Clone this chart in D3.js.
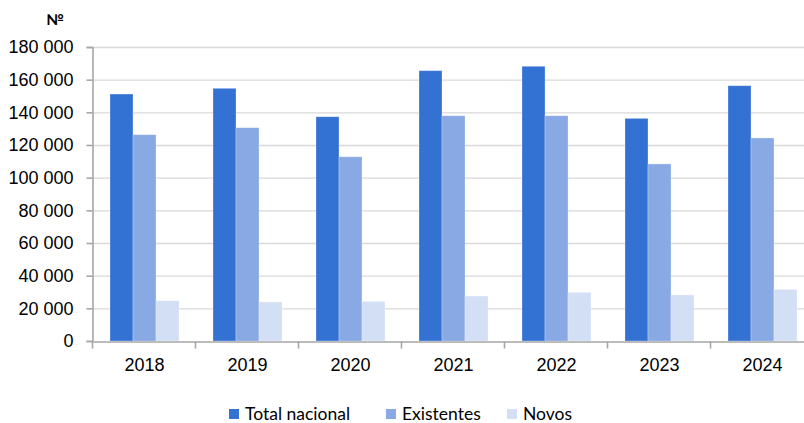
<!DOCTYPE html>
<html>
<head>
<meta charset="utf-8">
<script src="https://cdn.jsdelivr.net/npm/d3@7"></script>
<style>
  body { margin: 0; background: #fff; }
  svg { display: block; font-family: Lato, "Open Sans", sans-serif; }
</style>
</head>
<body>
<svg id="chart" width="804" height="423"></svg>
<script>
// data
const years = ["2018", "2019", "2020", "2021", "2022", "2023", "2024"]
const seriesNames = ["Total nacional", "Existentes", "Novos"]
const totalNacional = [151200, 154700, 137300, 165500, 168200, 136300, 156300]
const existentes = [126300, 130600, 112800, 137900, 137900, 108400, 124300]
const novos = [24700, 23900, 24300, 27500, 29800, 28200, 31600]
const yTicks = [0, 20000, 40000, 60000, 80000, 100000, 120000, 140000, 160000, 180000]
const colours = ["#3371d3", "#88a9e3", "#d3dff5"]

const values = [totalNacional, existentes, novos]
const rows = years.map((y, i) => ({ year: y, vals: values.map(v => v[i]) }))

const svg = d3.select("#chart")
const plotLeft = 93, plotTop = 47, plotBottom = 341

const x0 = d3.scaleBand()
    .domain(years)
    .range([plotLeft, plotLeft + 103 * years.length])
    .paddingInner(0).paddingOuter(0)
const x1 = d3.scaleBand()
    .domain(d3.range(seriesNames.length))
    .range([0, x0.bandwidth()])
    .paddingInner(0)
    .paddingOuter(0.739)
const y = d3.scaleLinear().domain([0, 180000]).range([plotBottom, plotTop])

const fmt = d3.formatLocale({ decimal: ",", thousands: " ", grouping: [3], currency: ["", "€"] }).format(",d")

// gridlines
svg.append("g")
    .selectAll("line")
    .data(yTicks.filter(d => d > 0))
    .enter().append("line")
    .attr("x1", plotLeft).attr("x2", 804)
    .attr("y1", d => y(d) + 0.5).attr("y2", d => y(d) + 0.5)
    .attr("stroke", "#d9d9d9")
    .attr("stroke-width", 1.3)

// bars
svg.append("g")
    .selectAll("g")
    .data(rows)
    .enter().append("g")
    .attr("transform", d => "translate(" + x0(d.year) + ",0)")
    .selectAll("rect")
    .data(d => d.vals)
    .enter().append("rect")
    .attr("x", (d, i) => x1(i))
    .attr("width", x1.bandwidth())
    .attr("y", d => y(d))
    .attr("height", d => plotBottom - y(d))
    .attr("fill", (d, i) => colours[i])
    .attr("stroke", "#ffffff")
    .attr("stroke-opacity", 0.35)
    .attr("stroke-width", 0.8)

// y axis
const yAxis = svg.append("g")
    .attr("transform", "translate(" + (plotLeft - 0.5) + ",0)")
    .call(d3.axisLeft(y).tickValues(yTicks).tickFormat(fmt).tickSize(6).tickPadding(13))
yAxis.select(".domain").attr("stroke", "#a6a6a6").attr("stroke-width", 1.6)
yAxis.selectAll(".tick line").attr("stroke", "#a6a6a6").attr("stroke-width", 1.6)
yAxis.selectAll("text").attr("font-size", 18).attr("fill", "#000")

// x axis: labels centred, ticks on category boundaries
const xAxis = svg.append("g")
    .attr("transform", "translate(0," + (plotBottom + 0.5) + ")")
    .call(d3.axisBottom(x0).tickSize(0).tickPadding(17))
xAxis.select(".domain").attr("stroke", "#a6a6a6").attr("stroke-width", 1.6)
xAxis.selectAll("text").attr("font-size", 18).attr("fill", "#000")
xAxis.selectAll(".bound")
    .data(years)
    .enter().append("line")
    .attr("class", "bound")
    .attr("x1", d => x0(d) - 0.5).attr("x2", d => x0(d) - 0.5)
    .attr("y1", 0).attr("y2", 7)
    .attr("stroke", "#a6a6a6").attr("stroke-width", 1.6)

// unit label
svg.append("text")
    .attr("x", 55).attr("y", 25)
    .attr("text-anchor", "middle")
    .attr("font-size", 15)
    .attr("font-weight", "bold")
    .text("№")

// legend
const legendX = [229, 386, 507]
const legend = svg.append("g")
    .selectAll("g")
    .data(seriesNames)
    .enter().append("g")
    .attr("transform", (d, i) => "translate(" + legendX[i] + ",413)")
legend.append("rect")
    .attr("x", 0).attr("y", -4)
    .attr("width", 10).attr("height", 10)
    .attr("fill", (d, i) => colours[i])
legend.append("text")
    .attr("x", 16).attr("y", 1)
    .attr("dy", "0.35em")
    .attr("font-size", 17.5)
    .text(d => d)
</script>
</body>
</html>
